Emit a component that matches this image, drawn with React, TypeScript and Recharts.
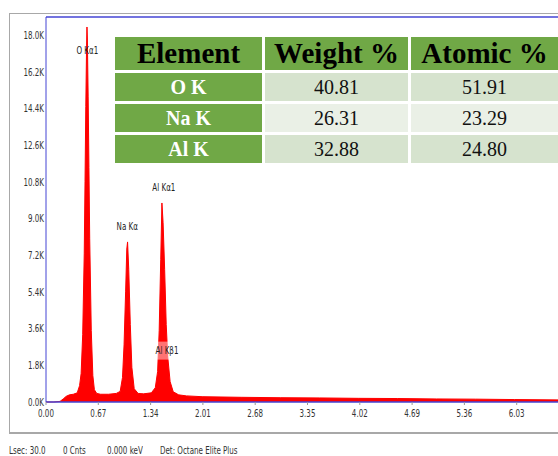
import React from 'react';
import { Area, AreaChart, ReferenceDot, ReferenceLine, XAxis, YAxis } from 'recharts';

// EDS spectrum (keV, counts)
const energies = [
  0, 0.1, 0.18, 0.22, 0.26, 0.3, 0.35, 0.4, 0.43, 0.45, 0.47, 0.49, 0.5, 0.51, 0.52, 0.525, 0.53, 0.54,
  0.55, 0.56, 0.58, 0.6, 0.62, 0.65, 0.7, 0.8, 0.9, 0.95, 0.98, 1.0, 1.02, 1.035, 1.045, 1.06, 1.08, 1.1,
  1.13, 1.18, 1.25, 1.35, 1.4, 1.43, 1.45, 1.47, 1.485, 1.5, 1.52, 1.54, 1.56, 1.59, 1.63, 1.7, 1.8, 2.0,
  2.5, 3.0, 3.5, 4.0, 4.5, 5.0, 5.5, 6.0, 6.7,
];
const counts = [
  0, 0, 30, 150, 280, 350, 380, 450, 800, 1400, 3300, 7300, 10800, 14500, 17500, 18390, 17800, 15000,
  11500, 8000, 3500, 1300, 600, 420, 380, 380, 420, 520, 1200, 2800, 5400, 7500, 7850, 6500, 3800, 1700,
  650, 420, 400, 450, 700, 1500, 3500, 7000, 9760, 8800, 6500, 3800, 2200, 1000, 500, 350, 300, 260,
  230, 210, 200, 180, 170, 150, 140, 120, 100,
];

const xTicks = [0, 0.67, 1.34, 2.01, 2.68, 3.35, 4.02, 4.69, 5.36, 6.03];
const yTicks = [0, 1800, 3600, 5400, 7200, 9000, 10800, 12600, 14400, 16200, 18000];
const yMax = 18880;

const peakNames = ['O Kα1', 'Na Kα', 'Al Kα1', 'Al Kβ1'];
const peakEnergies = [0.53, 1.041, 1.51, 1.55];
const peakLabelCounts = [17260, 8630, 10550, 2520];

const tableHead = ['Element', 'Weight %', 'Atomic %'];
const elements = ['O K', 'Na K', 'Al K'];
const weightPct = ['40.81', '26.31', '32.88'];
const atomicPct = ['51.91', '23.29', '24.80'];

const statusItems = ['Lsec: 30.0', '0 Cnts', '0.000 keV', 'Det: Octane Elite Plus'];

const data = energies.map((e, i) => ({ e, c: counts[i] }));

const blue = '#4444d4';
const green = '#70a846';
const narrow = '"DejaVu Sans Condensed", "DejaVu Sans", sans-serif';
const serif = '"Liberation Serif", "Times New Roman", serif';
const squeeze = 0.72;

const XTick = (props: any) => {
  const { x, y, payload } = props;
  return (
    <text transform={`translate(${x},${y + 8}) scale(${squeeze},1)`} dy='0.35em' textAnchor='middle' fontSize={11} fontFamily={narrow} fill='#333'>
      {Number(payload.value).toFixed(2)}
    </text>
  );
};

const YTick = (props: any) => {
  const { x, y, payload } = props;
  return (
    <text transform={`translate(${x},${y}) scale(${squeeze},1)`} dy='0.35em' textAnchor='end' fontSize={11} fontFamily={narrow} fill='#333'>
      {`${(payload.value / 1000).toFixed(1)}K`}
    </text>
  );
};

const PeakLabel = (props: any) => {
  const { viewBox, value, boxed } = props;
  const x = viewBox.x + (viewBox.width || 0) / 2;
  const y = viewBox.y + (viewBox.height || 0) / 2;
  return (
    <g>
      {boxed && <rect x={x - 11} y={y - 9} width={22} height={18} fill='#fff' fillOpacity={0.45} />}
      <text transform={`translate(${x},${y}) scale(${squeeze},1)`} dy='0.35em' textAnchor='middle' fontSize={11} fontFamily={narrow} fill='#222'>
        {value}
      </text>
    </g>
  );
};

const rowBg = ['#d6e3ce', '#eaf0e6', '#d6e3ce'];
const statusLeft = [1, 55, 99, 152];

const cell: React.CSSProperties = {
  fontFamily: serif,
  fontSize: 20,
  display: 'flex',
  alignItems: 'center',
  justifyContent: 'center',
  whiteSpace: 'nowrap',
};

export default function App() {
  return (
    <div style={{ position: 'relative', width: 558, height: 456, overflow: 'hidden', background: '#fff' }}>
      <style>{'html{overflow:hidden} body{margin:0}'}</style>
      <div style={{ position: 'absolute', left: 8, top: 8, width: 580, height: 448 }}>
        <div
          style={{
            position: 'absolute',
            left: 1,
            top: 5,
            width: 620,
            height: 418,
            borderTop: '1px solid #a8a8a8',
            borderLeft: '1px solid #a8a8a8',
            borderBottom: '2px solid #a8a8a8',
          }}
        />
        <div style={{ position: 'absolute', left: 0, top: 0 }}>
          <AreaChart width={580} height={420} data={data} margin={{ top: 9, right: 19, bottom: 6, left: 0 }}>
            <XAxis
              dataKey='e'
              type='number'
              domain={[0, 6.7]}
              ticks={xTicks}
              axisLine={{ stroke: blue, strokeWidth: 1.5 }}
              tickLine={{ stroke: '#999' }}
              tickSize={3}
              tickMargin={0}
              height={20}
              tick={<XTick />}
              interval={0}
            />
            <YAxis
              type='number'
              domain={[0, yMax]}
              ticks={yTicks}
              axisLine={{ stroke: blue }}
              tickLine={false}
              tickSize={2}
              tickMargin={0}
              width={38}
              tick={<YTick />}
              interval={0}
            />
            <ReferenceLine y={yMax} stroke={blue} strokeWidth={1.5} />
            <Area
              type='linear'
              dataKey='c'
              stroke='#ff0000'
              strokeWidth={1}
              fill='#ff0000'
              fillOpacity={1}
              baseValue={0}
              dot={false}
              activeDot={false}
              isAnimationActive={false}
            />
            {peakNames.map((n, i) => (
              <ReferenceDot
                key={n}
                x={peakEnergies[i]}
                y={peakLabelCounts[i]}
                r={0}
                fill='none'
                stroke='none'
                ifOverflow='visible'
                label={<PeakLabel value={n} boxed={i === 3} />}
              />
            ))}
          </AreaChart>
        </div>
        <div
          style={{
            position: 'absolute',
            left: 107,
            top: 29,
            display: 'grid',
            gridTemplateColumns: '147px 143px 147px',
            gridTemplateRows: '33px 28px 28px 28px',
            columnGap: 3,
            rowGap: 3,
          }}
        >
          {tableHead.map(h => (
            <div key={h} style={{ ...cell, background: green, fontWeight: 'bold', fontSize: 29, color: '#000' }}>
              {h}
            </div>
          ))}
          {elements.map((el, i) => (
            <React.Fragment key={el}>
              <div style={{ ...cell, background: green, fontWeight: 'bold', color: '#fff' }}>{el}</div>
              <div style={{ ...cell, background: rowBg[i], color: '#111' }}>{weightPct[i]}</div>
              <div style={{ ...cell, background: rowBg[i], color: '#111' }}>{atomicPct[i]}</div>
            </React.Fragment>
          ))}
        </div>
        <div style={{ position: 'absolute', top: 436, left: 0, fontFamily: narrow, fontSize: 11, color: '#333', whiteSpace: 'nowrap' }}>
          {statusItems.map((s, i) => (
            <span
              key={s}
              style={{ position: 'absolute', left: statusLeft[i], transform: `scaleX(${squeeze})`, transformOrigin: 'left center' }}
            >
              {s}
            </span>
          ))}
        </div>
      </div>
    </div>
  );
}
